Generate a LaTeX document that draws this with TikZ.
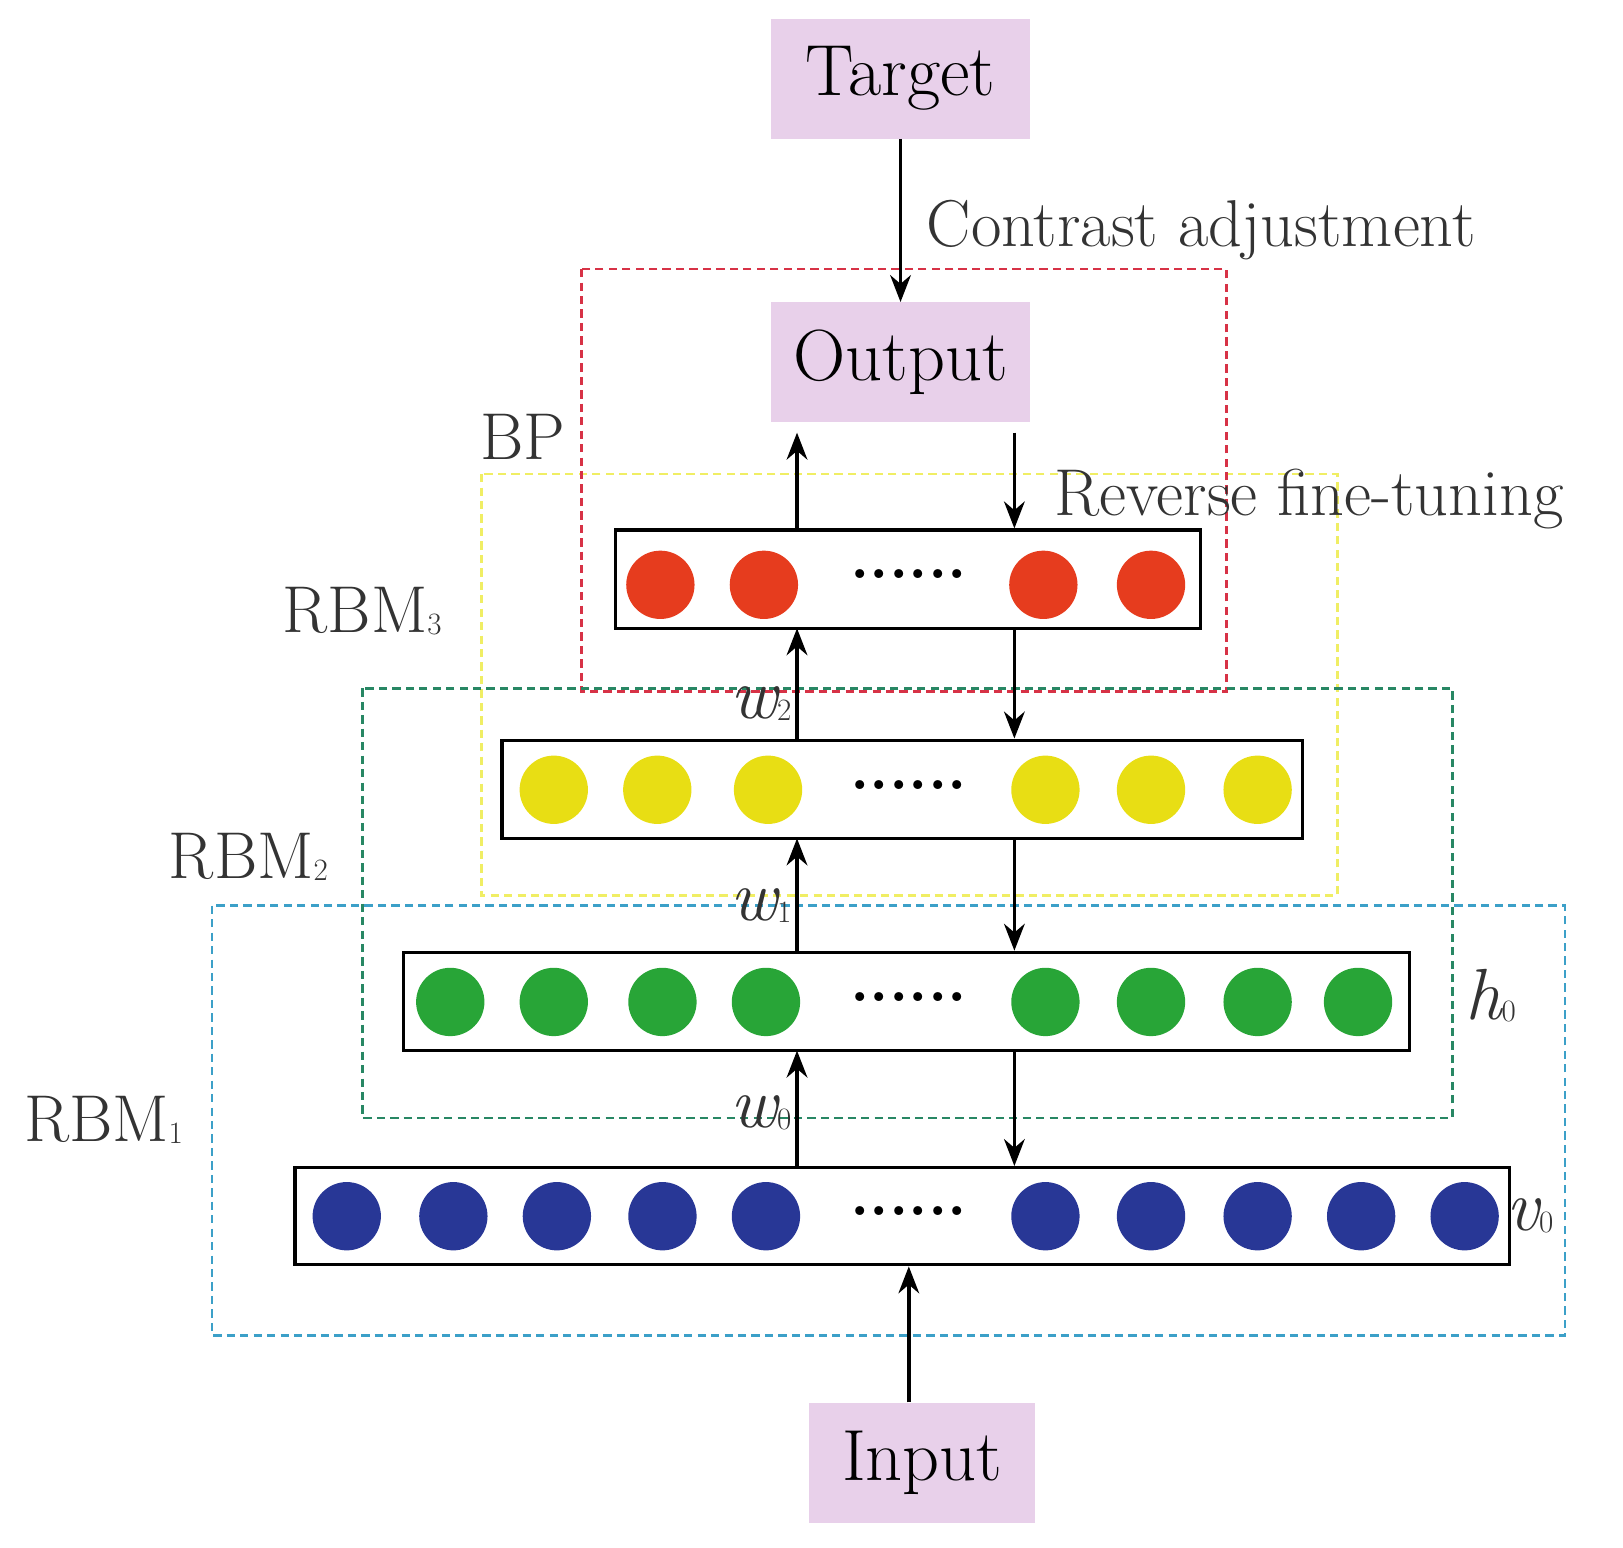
\documentclass[tikz,border=0pt]{standalone}
\usetikzlibrary{arrows.meta}
\definecolor{pinkbox}{RGB}{232,208,234}
\definecolor{cred}{RGB}{230,60,30}
\definecolor{cyel}{RGB}{232,222,20}
\definecolor{cgrn}{RGB}{40,165,55}
\definecolor{cblu}{RGB}{40,55,150}
\definecolor{dred}{RGB}{215,50,70}
\definecolor{dyel}{RGB}{240,238,100}
\definecolor{dgrn}{RGB}{40,135,100}
\definecolor{dblu}{RGB}{60,160,200}
\newcommand{\sbx}[1]{\raisebox{-2pt}{\fontsize{30}{30}\selectfont\upshape #1}}
\begin{document}
\begin{tikzpicture}[x=1pt,y=-1pt,
  pbox/.style={fill=pinkbox,minimum width=250pt,minimum height=116pt,inner sep=0pt,font=\fontsize{70}{72}\selectfont},
  layer/.style={draw=black,line width=3pt,inner sep=0pt},
  dot/.style={circle,inner sep=0pt,minimum size=66pt},
  dbox/.style={dashed,line width=2.5pt,dash pattern=on 8pt off 5pt},
  arr/.style={-{Stealth[length=26pt,width=20pt]},line width=3.5pt},
  lab/.style={font=\fontsize{64}{66}\selectfont,text=black!80},
  wl/.style={font=\fontsize{70}{72}\selectfont\itshape,text=black!80}]
\useasboundingbox (0,0) rectangle (1568,1495);
% dashed groups
\draw[dbox,draw=dyel] (465,458) rectangle (1292,865);
\draw[dbox,draw=dred] (562,260) rectangle (1185,668);
\draw[dbox,draw=dgrn] (350,665) rectangle (1403,1080);
\draw[dbox,draw=dblu] (205,875) rectangle (1512,1290);
% boxes
\node[pbox] (target) at (870,76) {Target};
\node[pbox] (output) at (870,350) {Output};
\node[pbox,minimum width=218pt] (input) at (891,1413) {Input};
% layers
\node[layer,minimum width=565pt,minimum height=95pt] (L3) at (877.5,559.5) {};
\node[layer,minimum width=773pt,minimum height=95pt] (L2) at (871.5,762.5) {};
\node[layer,minimum width=972pt,minimum height=95pt] (L1) at (876,967.5) {};
\node[layer,minimum width=1173pt,minimum height=94pt] (L0) at (871.5,1175) {};
\foreach \x [count=\i] in {638,738,1008,1112} \node[dot,fill=cred] (r\i) at (\x,565) {};
\foreach \x [count=\i] in {535,635,742,1010,1112,1215} \node[dot,fill=cyel] (y\i) at (\x,763) {};
\foreach \x [count=\i] in {435,535,640,740,1010,1112,1215,1312} \node[dot,fill=cgrn] (g\i) at (\x,968) {};
\foreach \x [count=\i] in {335,438,538,640,740,1010,1112,1215,1315,1415} \node[dot,fill=cblu] (b\i) at (\x,1175) {};
\foreach \y/\n in {555/d3,758/d2,963/d1,1170/d0}
  \node[font=\fontsize{60}{60}\selectfont\bfseries] (\n) at (878,\y) {......};
% arrows
\draw[arr] (target.south) -- (target.south |- output.north);
\node[lab,anchor=west] (ca) at (892,222) {Contrast adjustment};
\draw[arr] (L3.north -| 770,0) -- (770,418);
\draw[arr] (L2.north -| 770,0) -- (770,607);
\draw[arr] (L1.north -| 770,0) -- (770,810);
\draw[arr] (L0.north -| 770,0) -- (770,1015);
\draw[arr] (980,418) -- (L3.north -| 980,0);
\draw[arr] (980,607) -- (L2.north -| 980,0);
\draw[arr] (980,810) -- (L1.north -| 980,0);
\draw[arr] (980,1015) -- (L0.north -| 980,0);
\draw[arr] (input.north -| 878,0) -- (L0.south -| 878,0);
% labels
\node[lab] (bp) at (505,422) {BP};
\node[lab,anchor=west] (rft) at (1015,482) {Reverse fine-tuning};
\node[lab] (rbm3) at (350,590) {RBM\sbx{3}};
\node[lab] (rbm2) at (240,828) {RBM\sbx{2}};
\node[lab] (rbm1) at (100,1082) {RBM\sbx{1}};
\node[wl] (w2) at (735,680) {w\sbx{2}};
\node[wl] (w1) at (735,875) {w\sbx{1}};
\node[wl] (w0) at (735,1075) {w\sbx{0}};
\node[wl] (h0) at (1440,962) {h\sbx{0}};
\node[wl] (v0) at (1478,1175) {v\sbx{0}};
\end{tikzpicture}
\end{document}
